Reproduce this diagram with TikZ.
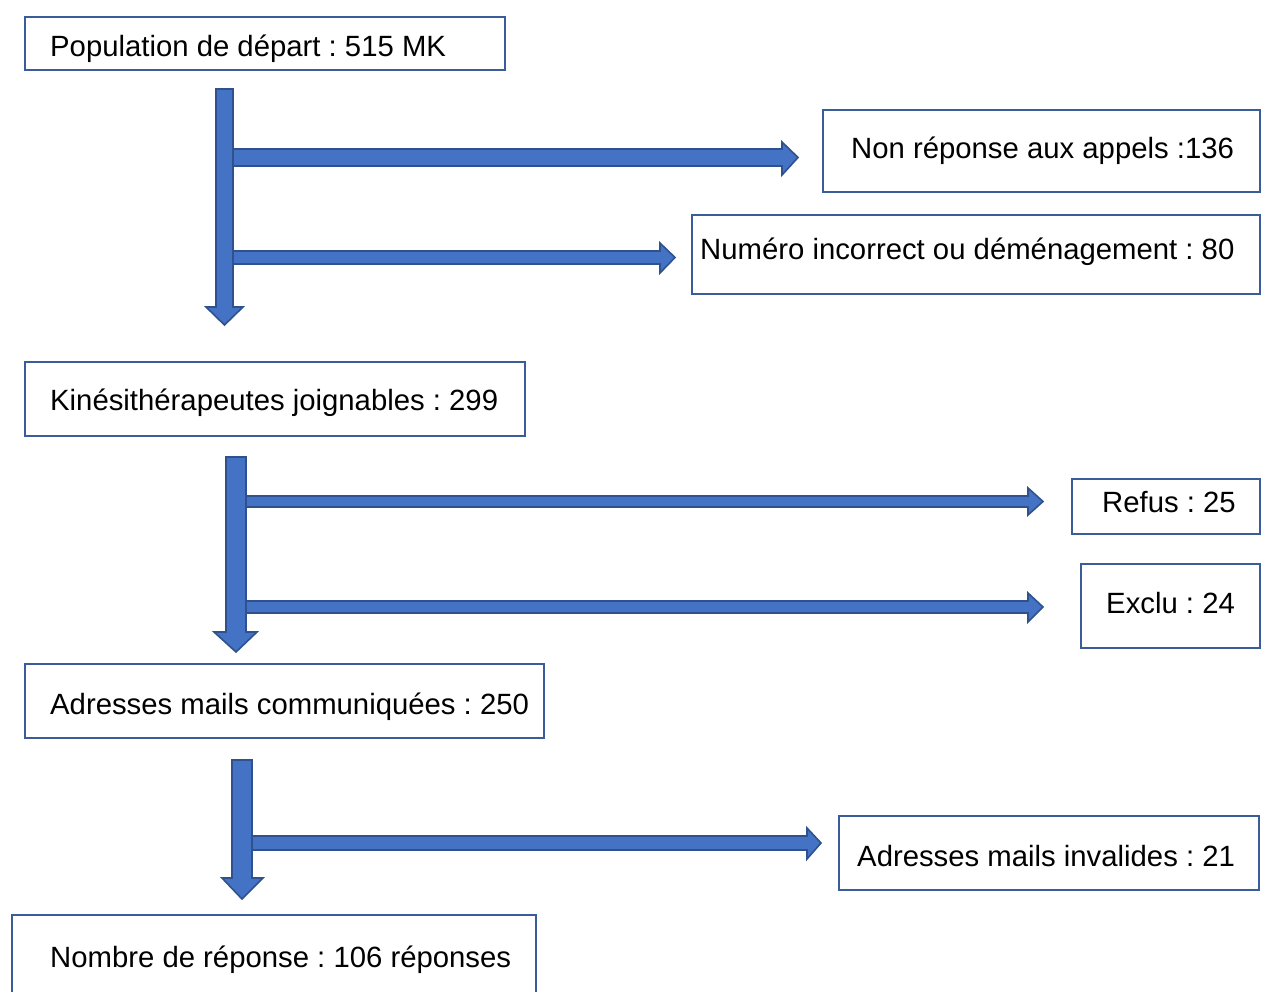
\documentclass[tikz,border=0pt]{standalone}
\usepackage{fontspec}
\setmainfont{Liberation Sans}
\frenchspacing
\definecolor{arrfill}{HTML}{4472C4}
\definecolor{arrline}{HTML}{2F528F}
\definecolor{boxline}{HTML}{3A5C98}
\tikzset{
  boxn/.style={draw=boxline, line width=2pt, fill=white, inner sep=0pt, anchor=north west},
  txt/.style={inner sep=0pt, anchor=base west, font=\fontsize{29.3}{34}\selectfont\frenchspacing, text=black},
  blk/.style={fill=arrfill, draw=arrline, line width=1.6pt, line join=miter}
}
\newcommand{\downarr}[8]{% xl xr top headstart hl hr tip center
  \path[blk] (#1,#3) -- (#2,#3) -- (#2,#4) -- (#6,#4) -- (#8,#7) -- (#5,#4) -- (#1,#4) -- cycle;}
\newcommand{\rightarr}[8]{% xstart yt yb headstart ht hb tip ycenter
  \path[blk] (#1,#2) -- (#4,#2) -- (#4,#5) -- (#7,#8) -- (#4,#6) -- (#4,#3) -- (#1,#3) -- cycle;}
\begin{document}
\begin{tikzpicture}[x=1pt,y=-1pt]
\useasboundingbox (0,0) rectangle (1261,992);
\fill[white] (0,0) rectangle (1261,992);

% boxes
\node[boxn, minimum width=480pt, minimum height=53pt] (b1) at (24,16) {};
\node[boxn, minimum width=437pt, minimum height=82pt] (b2) at (822,109) {};
\node[boxn, minimum width=568pt, minimum height=79pt] (b3) at (691,214) {};
\node[boxn, minimum width=500pt, minimum height=74pt] (b4) at (24,361) {};
\node[boxn, minimum width=188pt, minimum height=55pt] (b5) at (1071,478) {};
\node[boxn, minimum width=179pt, minimum height=84pt] (b6) at (1080,563) {};
\node[boxn, minimum width=519pt, minimum height=74pt] (b7) at (24,663) {};
\node[boxn, minimum width=420pt, minimum height=74pt] (b8) at (838,815) {};
\node[boxn, minimum width=524pt, minimum height=90pt] (b9) at (11,914) {};

% texts
\node[txt] (t1) at (50,56.5) {Population de départ : 515 MK};
\node[txt] (t2) at (851,158.5) {Non réponse aux appels :136};
\node[txt] (t3) at (700,259.5) {Numéro incorrect ou déménagement : 80};
\node[txt] (t4) at (50,410.5) {Kinésithérapeutes joignables : 299};
\node[txt] (t5) at (1102,512.5) {Refus : 25};
\node[txt] (t6) at (1106,613.5) {Exclu : 24};
\node[txt] (t7) at (50,714.5) {Adresses mails communiquées : 250};
\node[txt] (t8) at (857,866.5) {Adresses mails invalides : 21};
\node[txt] (t9) at (50,967) {Nombre de réponse : 106 réponses};

% block arrows, first group
\rightarr{228}{149}{166}{782}{142}{175}{798}{157.5}
\rightarr{228}{251}{264}{660}{243}{273}{675}{257.5}
\downarr{216}{233}{89}{307}{206}{243}{325}{224.5}

% second group
\rightarr{242}{496}{507}{1028}{488}{515}{1043}{501.5}
\rightarr{242}{601}{613}{1028}{593}{622}{1043}{607}
\downarr{226}{246}{457}{632}{214}{257}{652}{236}

% third group
\rightarr{248}{836}{850}{807}{828}{859}{821}{843}
\downarr{232}{252}{760}{878}{222}{263}{899}{242}
\end{tikzpicture}
\end{document}
